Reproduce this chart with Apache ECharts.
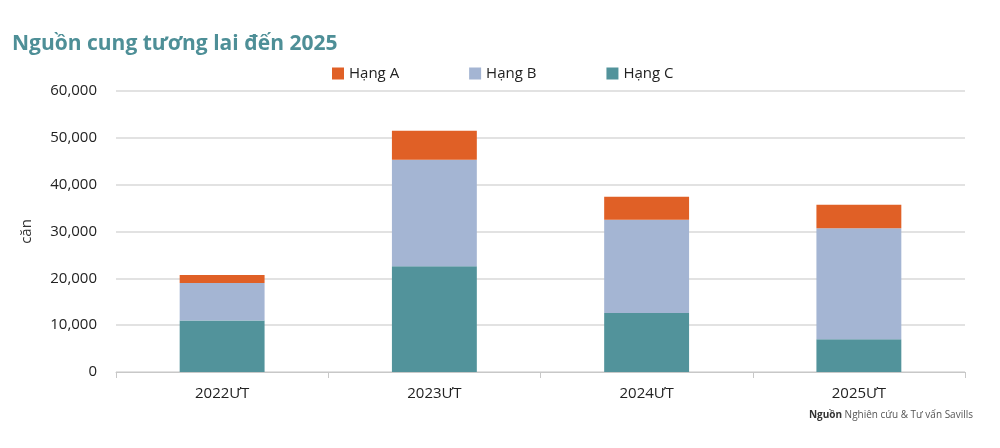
<!DOCTYPE html>
<html><head><meta charset="utf-8">
<script src="https://cdn.jsdelivr.net/npm/echarts@6/dist/echarts.min.js"></script>
<style>html,body{margin:0;padding:0;background:#fff}#c{width:1000px;height:448px}</style>
</head><body><div id="c"></div>
<script>
const categories = ['2022ƯT','2023ƯT','2024ƯT','2025ƯT'];
const hangC = [11000, 22600, 12600, 7000];
const hangB = [8000, 22700, 19900, 23700];
const hangA = [1700, 6200, 4900, 5000];
const yTicks = [0, 10000, 20000, 30000, 40000, 50000, 60000];

const font = "'Open Sans', 'Noto Sans', sans-serif";
const chart = echarts.init(document.getElementById('c'));
chart.setOption({
  animation: false,
  textStyle: {fontFamily: font},
  title: [{
    text: 'Nguồn cung tương lai đến 2025', left: 7, top: 29,
    textStyle: {color: '#4e8f97', fontSize: 21, fontWeight: 'bold', fontFamily: font}
  }, {
    text: '{b|Nguồn} Nghiên cứu & Tư vấn Savills', right: 22, top: 405,
    textStyle: {rich: {b: {fontWeight: 'bold', fontSize: 10, color: '#333', fontFamily: font}}, fontSize: 10, color: '#555', fontWeight: 'normal', fontFamily: font}
  }],
  legend: {
    top: 61, left: 327, itemGap: 70, itemWidth: 12, itemHeight: 12, icon: 'rect',
    data: ['Hạng A','Hạng B','Hạng C'],
    textStyle: {fontSize: 15, color: '#222', fontFamily: font}
  },
  grid: {left: 116, right: 35, top: 91, bottom: 76, containLabel: false},
  xAxis: {
    type: 'category', data: categories,
    axisLine: {lineStyle: {color: '#c8c8c8'}},
    axisTick: {show: true, length: 6, lineStyle: {color: '#c8c8c8'}},
    axisLabel: {fontSize: 15, color: '#222', margin: 14, fontFamily: font}
  },
  yAxis: {
    type: 'value', min: yTicks[0], max: yTicks[yTicks.length-1], interval: 10000,
    name: 'căn', nameLocation: 'middle', nameGap: 82, nameRotate: 90,
    nameTextStyle: {fontSize: 15, color: '#333', fontFamily: font},
    axisLine: {show: false}, axisTick: {show: false},
    splitLine: {lineStyle: {color: '#d9d9d9', width: 1.5}},
    axisLabel: {fontSize: 15, color: '#222', margin: 19, fontFamily: font,
      formatter: v => v.toLocaleString('en-US')}
  },
  series: [
    {name: 'Hạng C', type: 'bar', stack: 's', data: hangC, barWidth: '40%', itemStyle: {color: '#52939b'}},
    {name: 'Hạng B', type: 'bar', stack: 's', data: hangB, itemStyle: {color: '#a4b5d3'}},
    {name: 'Hạng A', type: 'bar', stack: 's', data: hangA, itemStyle: {color: '#e06026'}}
  ]
});
</script></body></html>
